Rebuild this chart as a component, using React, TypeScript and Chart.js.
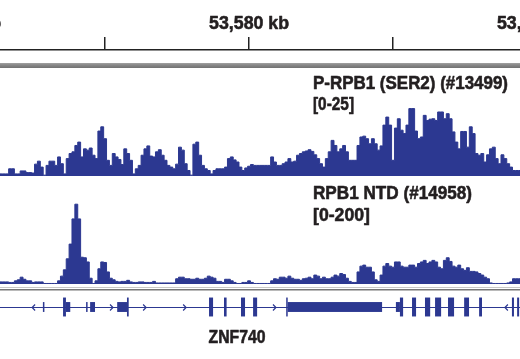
import React, { useEffect, useRef } from 'react';
import { Chart, registerables } from 'chart.js';

Chart.register(...registerables);

// ---------- data ----------
const VIEW_START_KB = 53571.35;
const VIEW_END_KB = 53589.41;
const BIN_KB = 0.1;
const RULER_TICK_STEP_KB = 5;
const RULER_LABELS_KB = [53570, 53580, 53590];

const TRACK1_NAME = 'P-RPB1 (SER2) (#13499)';
const TRACK1_RANGE = [0, 25];
const TRACK1_VALUES = [
  0.3, 0.5, 0.5, 0.5, 1.7, 1.7, 0.5, 0.5, 1.2, 1.2,
  0.8, 0.8, 0.7, 2.8, 3.5, 2.1, 0.2, 2.5, 3.5, 3.5,
  2.5, 4.5, 2.9, 0.5, 4.1, 5.3, 5.7, 7.2, 8.0, 4.5,
  6.4, 6.1, 6.6, 4.9, 4.1, 10.6, 11.6, 8.8, 3.7, 2.5,
  5.3, 4.5, 3.9, 2.7, 6.4, 5.3, 3.7, 0.5, 1.7, 2.5,
  4.9, 6.4, 7.1, 4.7, 4.5, 5.7, 6.2, 4.9, 3.7, 2.5,
  2.1, 1.7, 2.8, 6.8, 6.1, 2.9, 1.3, 0.2, 7.5, 8.0,
  4.9, 2.5, 1.7, 1.3, 0.5, 1.3, 1.7, 1.7, 1.7, 2.1,
  4.1, 4.5, 3.8, 3.3, 2.1, 1.3, 1.9, 2.3, 2.7, 2.5,
  2.5, 2.5, 2.5, 2.5, 2.5, 4.5, 3.3, 2.5, 2.5, 2.9,
  3.3, 4.1, 3.3, 3.5, 4.9, 5.3, 5.7, 5.9, 6.2, 5.8,
  5.0, 4.1, 2.9, 2.1, 4.1, 5.7, 8.4, 7.2, 5.7, 6.4,
  7.2, 5.7, 3.7, 3.7, 3.7, 7.2, 9.2, 9.4, 8.8, 7.6,
  8.8, 7.6, 6.1, 7.1, 12.0, 13.9, 12.0, 3.7, 11.3, 13.5,
  10.8, 10.0, 12.0, 15.9, 15.9, 10.6, 8.8, 9.2, 14.3, 13.1,
  13.4, 13.5, 13.1, 15.1, 15.1, 13.5, 14.7, 13.5, 10.4, 8.0,
  6.4, 10.5, 10.5, 6.8, 11.6, 10.0, 5.3, 4.9, 5.3, 3.3,
  5.0, 6.4, 6.8, 4.1, 2.9, 5.0, 4.1, 2.9, 2.1, 1.3,
  1.3,
];

const TRACK2_NAME = 'RPB1 NTD (#14958)';
const TRACK2_RANGE = [0, 200];
const TRACK2_VALUES = [
  3, 4, 4, 4, 3, 3, 6, 8, 13, 9,
  6, 6, 3, 4, 4, 4, 1, 1, 1, 1,
  1, 6, 15, 27, 48, 76, 124, 152, 124, 51,
  50, 42, 11, 1, 6, 29, 42, 41, 23, 11,
  8, 5, 4, 5, 5, 7, 4, 3, 3, 4,
  4, 3, 3, 3, 5, 2, 2, 2, 2, 2,
  2, 2, 10, 13, 13, 10, 10, 9, 9, 11,
  9, 9, 11, 15, 13, 11, 5, 5, 3, 9,
  9, 6, 3, 1, 1, 3, 3, 6, 3, 1,
  1, 1, 1, 1, 1, 6, 10, 9, 13, 13,
  11, 15, 11, 9, 9, 7, 10, 11, 13, 10,
  17, 15, 10, 13, 10, 10, 13, 17, 15, 20,
  18, 11, 5, 3, 3, 23, 34, 36, 32, 32,
  23, 8, 5, 17, 34, 39, 34, 32, 42, 42,
  34, 32, 32, 36, 36, 32, 39, 42, 45, 39,
  42, 45, 42, 32, 29, 45, 50, 43, 34, 32,
  36, 29, 26, 31, 24, 24, 23, 20, 17, 13,
  10, 2, 1, 1, 1, 1, 1, 2, 4, 10,
  10,
];

const GENE_NAME = 'ZNF740';
const GENE_SPAN_KB = [53570.5, 53590.5];
const CODING_EXONS_KB = [
  [53573.54, 53573.64], [53575.76, 53575.82], [53578.61, 53578.75],
  [53579.13, 53579.22], [53579.72, 53579.86], [53580.14, 53580.28],
  [53581.29, 53581.34], [53585.24, 53585.35], [53585.66, 53585.80],
  [53586.11, 53586.29], [53586.46, 53586.67], [53586.91, 53587.12],
  [53587.47, 53587.64], [53587.99, 53588.09], [53589.13, 53589.20],
  [53589.31, 53589.38],
];
const UTR_EXONS_KB = [
  [53572.84, 53572.88], [53573.64, 53573.79], [53574.34, 53574.37],
  [53574.48, 53574.65], [53575.42, 53575.76], [53581.34, 53584.62],
  [53585.10, 53585.24],
];
const STRAND_FWD_KB = [53575.24, 53576.39, 53577.78, 53580.90];
const STRAND_REV_KB = [53572.50, 53588.92];

// ---------- layout / style ----------
const W = 520;
const H = 359;
const CA_TOP = 50;
const CA_BOTTOM = H;
const BLUE = '#2c3891';
const TEXT = '#231f20';
const FONT = "bold 19px 'Liberation Sans', Arial, sans-serif";

function bandRange(vLow: number, vHigh: number, pBottom: number, pTop: number) {
  const pxPerUnit = (pBottom - pTop) / (vHigh - vLow);
  const min = vLow - (CA_BOTTOM - pBottom) / pxPerUnit;
  const max = min + (CA_BOTTOM - CA_TOP) / pxPerUnit;
  return { min, max };
}

function toSteps(vals: number[]) {
  const pts = vals.map((v, i) => ({ x: VIEW_START_KB + i * BIN_KB, y: v }));
  pts.push({ x: VIEW_START_KB + vals.length * BIN_KB, y: vals[vals.length - 1] });
  return pts;
}

// condensed heavy text: squeezed to the given width, with a thin outline for weight
function condensed(ctx: CanvasRenderingContext2D, text: string, x: number, y: number, width: number) {
  ctx.fillText(text, x, y, width);
  ctx.strokeText(text, x, y, width);
}

const decorPlugin = {
  id: 'igvDecor',
  beforeDraw(chart: any) {
    const ctx = chart.ctx;
    ctx.save();
    const g = ctx.createLinearGradient(0, 62, 0, 69);
    g.addColorStop(0, '#b0b0b0');
    g.addColorStop(0.4, '#8a8a8a');
    g.addColorStop(1, '#6a6a6a');
    ctx.fillStyle = g;
    ctx.fillRect(0, 63, W, 5);
    ctx.fillStyle = '#c8c8c8';
    ctx.fillRect(0, 287, W, 1);
    ctx.fillStyle = '#777';
    ctx.fillRect(0, 289, W, 1.5);
    ctx.restore();
  },
  afterDatasetsDraw(chart: any) {
    const ctx = chart.ctx;
    const x = chart.scales.x;
    const yg = chart.scales.yg;
    const px = (kb: number) => x.getPixelForValue(kb);
    ctx.save();
    // gene model
    ctx.fillStyle = BLUE;
    ctx.strokeStyle = BLUE;
    const yc = yg.getPixelForValue(0);
    ctx.lineWidth = 1;
    ctx.beginPath();
    ctx.moveTo(px(GENE_SPAN_KB[0]), yc + 0.5);
    ctx.lineTo(px(GENE_SPAN_KB[1]), yc + 0.5);
    ctx.stroke();
    const drawExons = (list: number[][], half: number) => {
      const t = yg.getPixelForValue(half);
      const b = yg.getPixelForValue(-half);
      for (const [s, e] of list) {
        const x0 = px(s);
        const w = Math.max(1.5, px(e) - x0);
        ctx.fillRect(x0, t, w, b - t);
      }
    };
    drawExons(UTR_EXONS_KB, 0.45);
    drawExons(CODING_EXONS_KB, 0.86);
    ctx.lineWidth = 1.2;
    for (const kb of STRAND_FWD_KB) {
      const p = px(kb);
      ctx.beginPath();
      ctx.moveTo(p - 2, yc - 2.5);
      ctx.lineTo(p + 1, yc + 0.5);
      ctx.lineTo(p - 2, yc + 3.5);
      ctx.stroke();
    }
    for (const kb of STRAND_REV_KB) {
      const p = px(kb);
      ctx.beginPath();
      ctx.moveTo(p + 2, yc - 2.5);
      ctx.lineTo(p - 1, yc + 0.5);
      ctx.lineTo(p + 2, yc + 3.5);
      ctx.stroke();
    }
    // texts
    ctx.fillStyle = TEXT;
    ctx.strokeStyle = TEXT;
    ctx.lineWidth = 0.6;
    ctx.lineJoin = 'round';
    ctx.font = FONT;
    ctx.textBaseline = 'alphabetic';
    ctx.textAlign = 'center';
    for (const kb of RULER_LABELS_KB) {
      condensed(ctx, `${kb.toLocaleString('en-US')} kb`, px(kb), 29, 80);
    }
    ctx.textAlign = 'left';
    condensed(ctx, TRACK1_NAME, 313, 89, 195);
    condensed(ctx, `[${TRACK1_RANGE[0]}-${TRACK1_RANGE[1]}]`, 313, 110, 41);
    condensed(ctx, TRACK2_NAME, 313, 199, 159);
    condensed(ctx, `[${TRACK2_RANGE[0]}-${TRACK2_RANGE[1]}]`, 313, 221, 57);
    ctx.textAlign = 'center';
    condensed(ctx, GENE_NAME, 237, 343, 57);
    ctx.restore();
  },
};

export default function App() {
  const ref = useRef<HTMLCanvasElement>(null);
  useEffect(() => {
    const canvas = ref.current;
    if (!canvas) return;
    const chart = new Chart(canvas, {
      type: 'line',
      data: {
        datasets: [
          {
            label: TRACK1_NAME,
            data: toSteps(TRACK1_VALUES),
            yAxisID: 'y1',
            stepped: 'after',
            fill: 'origin',
            backgroundColor: BLUE,
            borderColor: BLUE,
            borderWidth: 1,
            pointRadius: 0,
          },
          {
            label: TRACK2_NAME,
            data: toSteps(TRACK2_VALUES),
            yAxisID: 'y2',
            stepped: 'after',
            fill: 'origin',
            backgroundColor: BLUE,
            borderColor: BLUE,
            borderWidth: 1,
            pointRadius: 0,
          },
        ],
      },
      options: {
        animation: false,
        responsive: false,
        maintainAspectRatio: false,
        devicePixelRatio: 1,
        events: [],
        layout: { padding: 0 },
        plugins: { legend: { display: false }, tooltip: { enabled: false } },
        scales: {
          x: {
            type: 'linear',
            position: 'top',
            min: VIEW_START_KB,
            max: VIEW_END_KB,
            offset: false,
            ticks: { display: false, stepSize: RULER_TICK_STEP_KB, includeBounds: false },
            grid: { drawOnChartArea: false, drawTicks: true, tickLength: 13, color: '#222', lineWidth: 1.5 },
            border: { display: true, color: '#222', width: 1.5 },
            afterFit: (s: any) => { s.height = CA_TOP; },
          },
          y1: { type: 'linear', display: false, ...bandRange(TRACK1_RANGE[0], TRACK1_RANGE[1], 176, 70) },
          y2: { type: 'linear', display: false, ...bandRange(TRACK2_RANGE[0], TRACK2_RANGE[1], 284, 179) },
          yg: { type: 'linear', display: false, ...bandRange(-1, 1, 318, 296) },
        },
      } as any,
      plugins: [decorPlugin],
    });
    return () => chart.destroy();
  }, []);
  return (
    <div style={{ position: 'fixed', left: 0, top: 0, width: W, height: H, background: '#fff' }}>
      <canvas ref={ref} width={W} height={H} style={{ display: 'block', width: W, height: H }} />
    </div>
  );
}
